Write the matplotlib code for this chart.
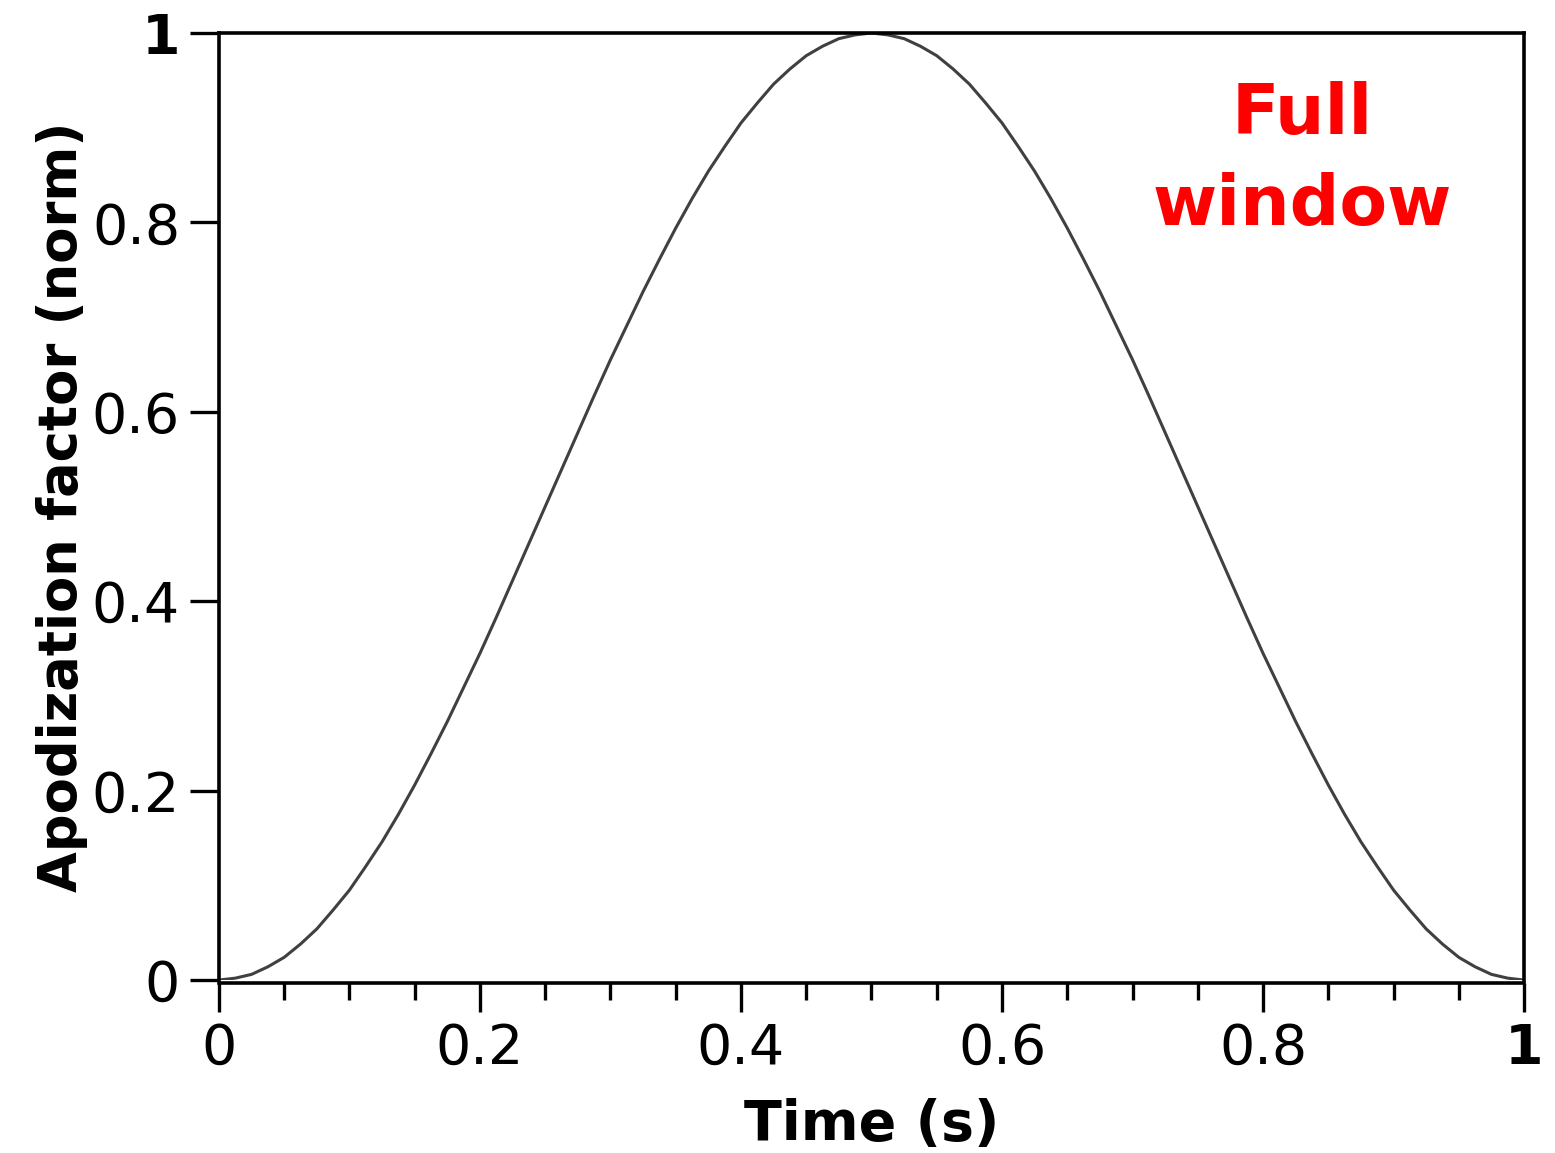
import numpy as np
import matplotlib
matplotlib.use('Agg')
import matplotlib.pyplot as plt
from matplotlib.ticker import MultipleLocator

# time samples (s) and normalised apodization factor
t = np.linspace(0, 1, 81)
apod = [0.000, 0.002, 0.006, 0.014, 0.024, 0.038, 0.054, 0.074, 0.095, 0.120,
        0.146, 0.175, 0.206, 0.239, 0.273, 0.309, 0.345, 0.383, 0.422, 0.461,
        0.500, 0.539, 0.578, 0.617, 0.655, 0.691, 0.727, 0.761, 0.794, 0.825,
        0.854, 0.880, 0.905, 0.926, 0.946, 0.962, 0.976, 0.986, 0.994, 0.998,
        1.000, 0.998, 0.994, 0.986, 0.976, 0.962, 0.946, 0.926, 0.905, 0.880,
        0.854, 0.825, 0.794, 0.761, 0.727, 0.691, 0.655, 0.617, 0.578, 0.539,
        0.500, 0.461, 0.422, 0.383, 0.345, 0.309, 0.273, 0.239, 0.206, 0.175,
        0.146, 0.120, 0.095, 0.074, 0.054, 0.038, 0.024, 0.014, 0.006, 0.002,
        0.000]

xticks = [0, 0.2, 0.4, 0.6, 0.8, 1]
xlabels = ['0', '0.2', '0.4', '0.6', '0.8', '1']
yticks = [0, 0.2, 0.4, 0.6, 0.8, 1]
ylabels = ['0', '0.2', '0.4', '0.6', '0.8', '1']

plt.rcParams['font.family'] = 'DejaVu Sans'

fig = plt.figure(figsize=(15.55, 11.53), dpi=100)
ax = fig.add_axes([0.1408, 0.150, 0.8393, 0.8214])

ax.plot(t, apod, color='#404040', linewidth=2.2)

ax.set_xlim(0, 1)
ax.set_ylim(0, 1)

for s in ax.spines.values():
    s.set_linewidth(2.6)
ax.spines['bottom'].set_position(('outward', 2))

ax.set_xticks(xticks)
ax.set_xticklabels(xlabels)
ax.set_yticks(yticks)
ax.set_yticklabels(ylabels)
ax.xaxis.set_minor_locator(MultipleLocator(0.05))

ax.tick_params(axis='both', which='major', direction='out', length=21,
               width=2.4, labelsize=40, pad=7)
ax.tick_params(axis='x', which='minor', direction='out', length=12, width=2.4)
ax.tick_params(axis='y', which='minor', left=False)

# end labels drawn in bold
ax.get_xticklabels()[-1].set_fontweight('bold')
ax.get_yticklabels()[-1].set_fontweight('bold')

ax.set_xlabel('Time (s)', fontsize=40, fontweight='bold', labelpad=16)
ax.set_ylabel('Apodization factor (norm)', fontsize=38, fontweight='bold', labelpad=3)

ax.text(0.83, 0.866, 'Full\nwindow', transform=ax.transAxes, color='red',
        fontsize=50, fontweight='bold', ha='center', va='center', linespacing=1.45)

fig.savefig('out.png', dpi=100)
